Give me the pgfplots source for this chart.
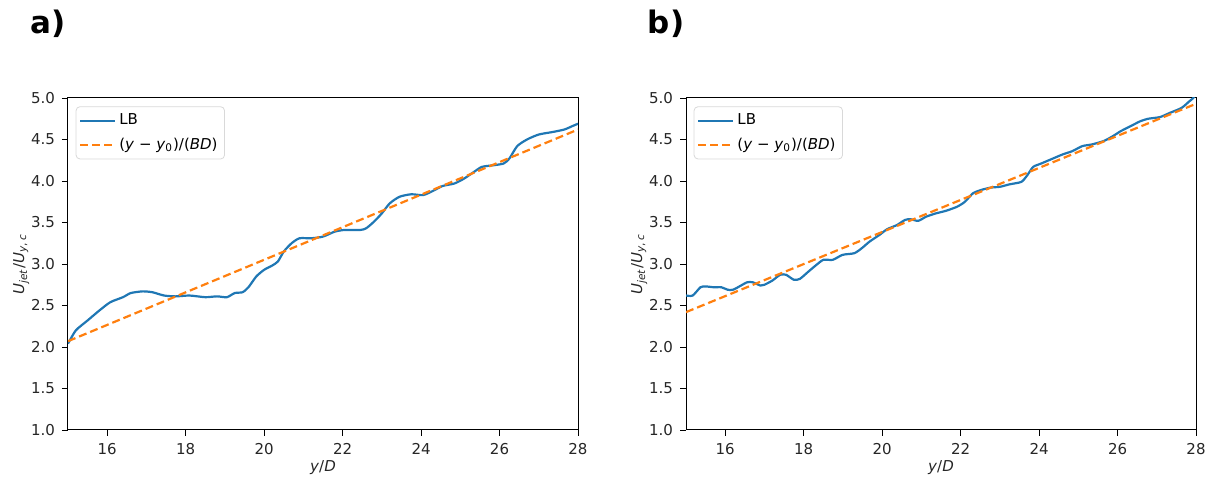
\documentclass[border=0pt]{standalone}
\usepackage{pgfplots}
\pgfplotsset{compat=1.18}
\usepackage{fontspec}
\setmainfont{DejaVu Sans}
\definecolor{mplblue}{HTML}{1F77B4}
\definecolor{mplorange}{HTML}{FF7F0E}
\pgfplotsset{
  panel/.style={
    scale only axis, width=255pt, height=166pt,
    xmin=15, xmax=28, ymin=1, ymax=5,
    xtick={16,18,...,28}, ytick={1,1.5,...,5},
    yticklabel style={/pgf/number format/fixed,/pgf/number format/fixed zerofill,/pgf/number format/precision=1},
    /pgf/number format/assume math mode=true,
    tick label style={font=\fontsize{7.5}{9}\selectfont, text=black!85},
    label style={font=\fontsize{7.5}{9}\selectfont, text=black!85},
    tick align=outside, major tick length=3pt,
    tick style={black, line width=0.4pt},
    xtick pos=bottom, ytick pos=left,
    axis line style={line width=0.5pt},
    xlabel={\textit{y}/\textit{D}},
    ylabel={\textit{U}\textsubscript{\textit{jet}}/\textit{U}\textsubscript{\textit{y}, \textit{c}}},
    xlabel style={yshift=4pt},
    ylabel style={yshift=-6pt},
    legend cell align=left,
    legend style={font=\fontsize{7.5}{9}\selectfont, draw=black!15, rounded corners=2pt, fill=white, fill opacity=0.8, text opacity=1, at={(0.015,0.975)}, anchor=north west, inner sep=1.5pt, row sep=1pt},
  }
}
\begin{document}
\begin{tikzpicture}
\path[use as bounding box] (-34pt,-25pt) rectangle (574pt,215pt);
\node[font=\bfseries\fontsize{15.5}{15.5}\selectfont] at (-10pt,203pt) {a)};
\node[font=\bfseries\fontsize{15.5}{15.5}\selectfont] at (299pt,203pt) {b)};
\begin{axis}[panel, at={(0pt,0pt)}, anchor=south west]
\addplot[mplblue, line width=1.1pt, smooth, tension=0.4] coordinates {
(15,2.04) (15.2,2.2) (15.5,2.32) (15.8,2.44) (16.08,2.54) (16.4,2.6) (16.6,2.65) (16.9,2.67) (17.15,2.66) (17.45,2.62) (17.75,2.61) (18.1,2.62) (18.5,2.6) (18.8,2.61) (19.05,2.6) (19.25,2.65) (19.45,2.66) (19.6,2.72) (19.8,2.85) (20.0,2.93) (20.2,2.98) (20.35,3.03) (20.5,3.15) (20.7,3.25) (20.9,3.31) (21.2,3.31) (21.5,3.33) (21.8,3.39) (22.05,3.41) (22.45,3.41) (22.6,3.43) (22.8,3.51) (23.0,3.61) (23.2,3.73) (23.45,3.81) (23.75,3.84) (24.05,3.83) (24.3,3.88) (24.55,3.94) (24.85,3.97) (25.1,4.03) (25.35,4.11) (25.55,4.17) (25.85,4.19) (26.1,4.21) (26.25,4.27) (26.45,4.42) (26.7,4.5) (27.0,4.56) (27.35,4.59) (27.65,4.62) (27.85,4.66) (28,4.69)
};
\addlegendentry{LB}
\addplot[mplorange, line width=1.1pt, dashed, dash pattern=on 4pt off 2pt] coordinates {(15,2.07) (28,4.62)};
\addlegendentry{(\textit{y} − \textit{y}\textsubscript{0})/(\textit{BD})}
\end{axis}
\begin{axis}[panel, at={(309pt,0pt)}, anchor=south west]
\addplot[mplblue, line width=1.1pt, smooth, tension=0.4] coordinates {
(15,2.62) (15.17,2.62) (15.37,2.72) (15.5,2.73) (15.7,2.72) (15.9,2.72) (16.06,2.69) (16.2,2.69) (16.4,2.74) (16.56,2.78) (16.7,2.78) (16.9,2.74) (17.0,2.75) (17.2,2.8) (17.4,2.87) (17.55,2.87) (17.75,2.81) (17.9,2.82) (18.1,2.9) (18.3,2.98) (18.5,3.05) (18.74,3.05) (18.99,3.11) (19.29,3.13) (19.48,3.19) (19.68,3.27) (19.93,3.35) (20.13,3.42) (20.38,3.47) (20.58,3.53) (20.72,3.54) (20.92,3.52) (21.12,3.57) (21.37,3.61) (21.62,3.64) (21.91,3.69) (22.11,3.75) (22.31,3.85) (22.51,3.89) (22.76,3.92) (23.0,3.93) (23.25,3.96) (23.55,3.99) (23.7,4.07) (23.85,4.17) (24.05,4.21) (24.35,4.27) (24.6,4.32) (24.85,4.36) (25.1,4.42) (25.34,4.44) (25.64,4.48) (25.88,4.54) (26.08,4.6) (26.33,4.66) (26.58,4.72) (26.78,4.75) (27.08,4.77) (27.33,4.82) (27.63,4.88) (27.83,4.96) (27.93,5.0) (28,5.06)
};
\addlegendentry{LB}
\addplot[mplorange, line width=1.1pt, dashed, dash pattern=on 4pt off 2pt] coordinates {(15,2.42) (28,4.93)};
\addlegendentry{(\textit{y} − \textit{y}\textsubscript{0})/(\textit{BD})}
\end{axis}
\end{tikzpicture}
\end{document}
